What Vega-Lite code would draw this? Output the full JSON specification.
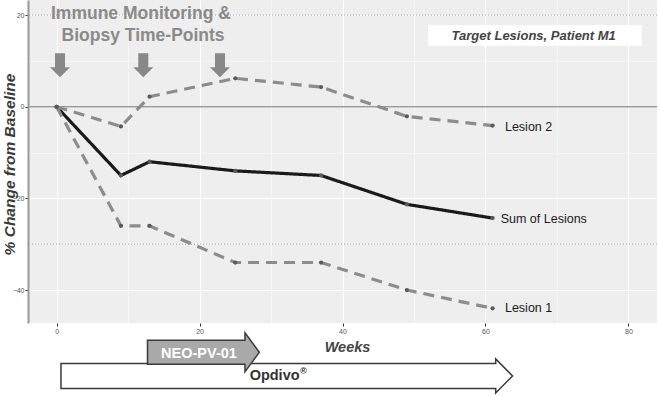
{
  "$schema": "https://vega.github.io/schema/vega-lite/v6.json",
  "width": 629,
  "height": 323,
  "autosize": {"type": "none"},
  "padding": {"left": 28, "top": 0, "right": 1, "bottom": 72},
  "background": "white",
  "config": {
    "view": {"fill": "#eeeeee", "stroke": null},
    "font": "Liberation Sans"
  },
  "datasets": {
    "series": [
      {"week": 0, "value": 0, "series": "Sum of Lesions"},
      {"week": 9, "value": -15, "series": "Sum of Lesions"},
      {"week": 13, "value": -12, "series": "Sum of Lesions"},
      {"week": 25, "value": -14, "series": "Sum of Lesions"},
      {"week": 37, "value": -15, "series": "Sum of Lesions"},
      {"week": 49, "value": -21.3, "series": "Sum of Lesions"},
      {"week": 61, "value": -24.3, "series": "Sum of Lesions"},
      {"week": 0, "value": 0, "series": "Lesion 1"},
      {"week": 9, "value": -26, "series": "Lesion 1"},
      {"week": 13, "value": -26, "series": "Lesion 1"},
      {"week": 25, "value": -34, "series": "Lesion 1"},
      {"week": 37, "value": -34, "series": "Lesion 1"},
      {"week": 49, "value": -40, "series": "Lesion 1"},
      {"week": 61, "value": -44, "series": "Lesion 1"},
      {"week": 0, "value": 0, "series": "Lesion 2"},
      {"week": 9, "value": -4.3, "series": "Lesion 2"},
      {"week": 13, "value": 2.2, "series": "Lesion 2"},
      {"week": 25, "value": 6.2, "series": "Lesion 2"},
      {"week": 37, "value": 4.3, "series": "Lesion 2"},
      {"week": 49, "value": -2.1, "series": "Lesion 2"},
      {"week": 61, "value": -4.1, "series": "Lesion 2"}
    ],
    "refs": [
      {"value": 20},
      {"value": -30}
    ],
    "zero": [{"value": 0}],
    "labels": [
      {"week": 62.73, "value": -4.4, "text": "Lesion 2"},
      {"week": 62.13, "value": -24.5, "text": "Sum of Lesions"},
      {"week": 62.73, "value": -43.9, "text": "Lesion 1"}
    ],
    "timepoints": [
      {"week": 0.48, "value": 9.06},
      {"week": 12.13, "value": 9.06},
      {"week": 22.86, "value": 9.06}
    ],
    "heading": [
      {"week": 11.8, "value": 20.25, "text": "Immune Monitoring &"},
      {"week": 12.1, "value": 15.45, "text": "Biopsy Time-Points"}
    ],
    "box": [{"week": 51.96, "week2": 81.85, "value": 17.85, "value2": 13.33}],
    "boxtext": [{"week": 66.75, "value": 15.45, "text": "Target Lesions, Patient M1"}],
    "opdivo": [{"week": 32.2, "value": -58.75}],
    "opdivotext": [{"week": 30.5, "value": -58.75, "text": "Opdivo"}],
    "regmark": [{"week": 34.5, "value": -57.6, "text": "®"}],
    "neo": [{"week": 20.54, "value": -53.6}],
    "neotext": [{"week": 19.92, "value": -53.95, "text": "NEO-PV-01"}]
  },
  "layer": [
    {
      "data": {"name": "series"},
      "mark": {"type": "line", "strokeWidth": 3.2, "opacity": 0},
      "encoding": {
        "x": {
          "field": "week", "type": "quantitative",
          "scale": {"domain": [-4, 84], "nice": false, "zero": false},
          "axis": {
            "values": [0, 10, 20, 30, 40, 50, 60, 70, 80],
            "title": "Weeks",
            "titleFontStyle": "italic", "titleFontWeight": "bold", "titleFontSize": 14.5, "titleColor": "#444444",
            "titleX": 319, "titleY": 24, "titleBaseline": "middle",
            "labelExpr": "datum.value % 20 === 0 ? datum.label : ''",
            "labelFontSize": 7, "labelColor": "#555555", "labelPadding": 1,
            "tickSize": 3, "tickColor": "#333333",
            "tickOpacity": {"condition": {"test": "datum.value % 20 === 0", "value": 1}, "value": 0},
            "grid": true, "gridColor": "#ffffff",
            "gridWidth": {"condition": {"test": "datum.value % 20 === 0", "value": 1.1}, "value": 0.5},
            "domain": false
          }
        },
        "y": {
          "field": "value", "type": "quantitative",
          "scale": {"domain": [-47.2, 23.3], "nice": false, "zero": false},
          "axis": {
            "values": [-40, -30, -20, -10, 0, 10, 20],
            "title": "% Change from Baseline",
            "titleFontStyle": "italic", "titleFontWeight": "bold", "titleFontSize": 15.5, "titleColor": "#3a3a3a",
            "titleX": -19, "titleY": 164, "titleBaseline": "middle",
            "labelExpr": "datum.value % 20 === 0 ? datum.label : ''",
            "labelFontSize": 7, "labelColor": "#555555", "labelPadding": 1,
            "tickSize": 3, "tickColor": "#333333",
            "tickOpacity": {"condition": {"test": "datum.value % 20 === 0", "value": 1}, "value": 0},
            "grid": true, "gridColor": "#ffffff",
            "gridWidth": {"condition": {"test": "datum.value % 20 === 0", "value": 1.1}, "value": 0.5},
            "domain": true, "domainColor": "#999999", "domainWidth": 2
          }
        },
        "detail": {"field": "series", "type": "nominal"}
      }
    },
    {
      "data": {"name": "zero"},
      "mark": {"type": "rule", "color": "#9a9a9a", "strokeWidth": 1.5},
      "encoding": {
        "y": {"field": "value", "type": "quantitative"}
      }
    },
    {
      "data": {"name": "refs"},
      "mark": {"type": "rule", "color": "#a0a0a0", "strokeWidth": 1, "strokeDash": [1, 2]},
      "encoding": {
        "y": {"field": "value", "type": "quantitative"}
      }
    },
    {
      "data": {"name": "series"},
      "mark": {"type": "line", "strokeWidth": 3.2},
      "encoding": {
        "x": {"field": "week", "type": "quantitative"},
        "y": {"field": "value", "type": "quantitative"},
        "color": {
          "field": "series", "type": "nominal", "legend": null,
          "scale": {"domain": ["Sum of Lesions", "Lesion 1", "Lesion 2"], "range": ["#1a1a1a", "#8c8c8c", "#8c8c8c"]}
        },
        "strokeDash": {
          "field": "series", "type": "nominal", "legend": null,
          "scale": {"domain": ["Sum of Lesions", "Lesion 1", "Lesion 2"], "range": [[1, 0], [11, 7], [11, 7]]}
        }
      }
    },
    {
      "data": {"name": "series"},
      "mark": {"type": "point", "filled": true, "size": 18, "color": "#5a5a5a", "opacity": 1},
      "encoding": {
        "x": {"field": "week", "type": "quantitative"},
        "y": {"field": "value", "type": "quantitative"}
      }
    },
    {
      "data": {"name": "labels"},
      "mark": {"type": "text", "align": "left", "baseline": "middle", "fontSize": 12.5, "color": "#1a1a1a"},
      "encoding": {
        "x": {"field": "week", "type": "quantitative"},
        "y": {"field": "value", "type": "quantitative"},
        "text": {"field": "text"}
      }
    },
    {
      "data": {"name": "timepoints"},
      "mark": {"type": "point", "shape": "M-0.417,-1L0.417,-1L0.417,0.167L0.833,0.167L0,1L-0.833,0.167L-0.417,0.167Z", "size": 576, "filled": true, "fill": "#888888", "strokeWidth": 0, "opacity": 1},
      "encoding": {
        "x": {"field": "week", "type": "quantitative"},
        "y": {"field": "value", "type": "quantitative"}
      }
    },
    {
      "data": {"name": "heading"},
      "mark": {"type": "text", "align": "center", "baseline": "middle", "fontSize": 17.5, "fontWeight": "bold", "color": "#8a8a8a"},
      "encoding": {
        "x": {"field": "week", "type": "quantitative"},
        "y": {"field": "value", "type": "quantitative"},
        "text": {"field": "text"}
      }
    },
    {
      "data": {"name": "box"},
      "mark": {"type": "rect", "fill": "#ffffff", "strokeWidth": 0},
      "encoding": {
        "x": {"field": "week", "type": "quantitative"},
        "x2": {"field": "week2"},
        "y": {"field": "value", "type": "quantitative"},
        "y2": {"field": "value2"}
      }
    },
    {
      "data": {"name": "boxtext"},
      "mark": {"type": "text", "align": "center", "baseline": "middle", "fontSize": 13, "fontWeight": "bold", "fontStyle": "italic", "color": "#444444"},
      "encoding": {
        "x": {"field": "week", "type": "quantitative"},
        "y": {"field": "value", "type": "quantitative"},
        "text": {"field": "text"}
      }
    },
    {
      "data": {"name": "opdivo"},
      "mark": {"type": "point", "shape": "M-13.28,-0.735L12.29,-0.735L12.29,-1L13.28,0L12.29,1L12.29,0.735L-13.28,0.735Z", "size": 1156, "filled": true, "fill": "#ffffff", "stroke": "#3a3a3a", "strokeWidth": 1.5, "opacity": 1},
      "encoding": {
        "x": {"field": "week", "type": "quantitative"},
        "y": {"field": "value", "type": "quantitative"}
      }
    },
    {
      "data": {"name": "opdivotext"},
      "mark": {"type": "text", "align": "center", "baseline": "middle", "fontSize": 14.5, "fontWeight": "bold", "color": "#333333"},
      "encoding": {
        "x": {"field": "week", "type": "quantitative"},
        "y": {"field": "value", "type": "quantitative"},
        "text": {"field": "text"}
      }
    },
    {
      "data": {"name": "regmark"},
      "mark": {"type": "text", "align": "center", "baseline": "middle", "fontSize": 9, "fontWeight": "bold", "color": "#333333"},
      "encoding": {
        "x": {"field": "week", "type": "quantitative"},
        "y": {"field": "value", "type": "quantitative"},
        "text": {"field": "text"}
      }
    },
    {
      "data": {"name": "neo"},
      "mark": {"type": "point", "shape": "M-2.867,-0.615L2.133,-0.615L2.133,-1L2.867,0L2.133,1L2.133,0.615L-2.867,0.615Z", "size": 1521, "filled": true, "fill": "#a9a9a9", "stroke": "#3a3a3a", "strokeWidth": 1.5, "opacity": 1},
      "encoding": {
        "x": {"field": "week", "type": "quantitative"},
        "y": {"field": "value", "type": "quantitative"}
      }
    },
    {
      "data": {"name": "neotext"},
      "mark": {"type": "text", "align": "center", "baseline": "middle", "fontSize": 14.5, "fontWeight": "bold", "color": "#ffffff"},
      "encoding": {
        "x": {"field": "week", "type": "quantitative"},
        "y": {"field": "value", "type": "quantitative"},
        "text": {"field": "text"}
      }
    }
  ]
}
